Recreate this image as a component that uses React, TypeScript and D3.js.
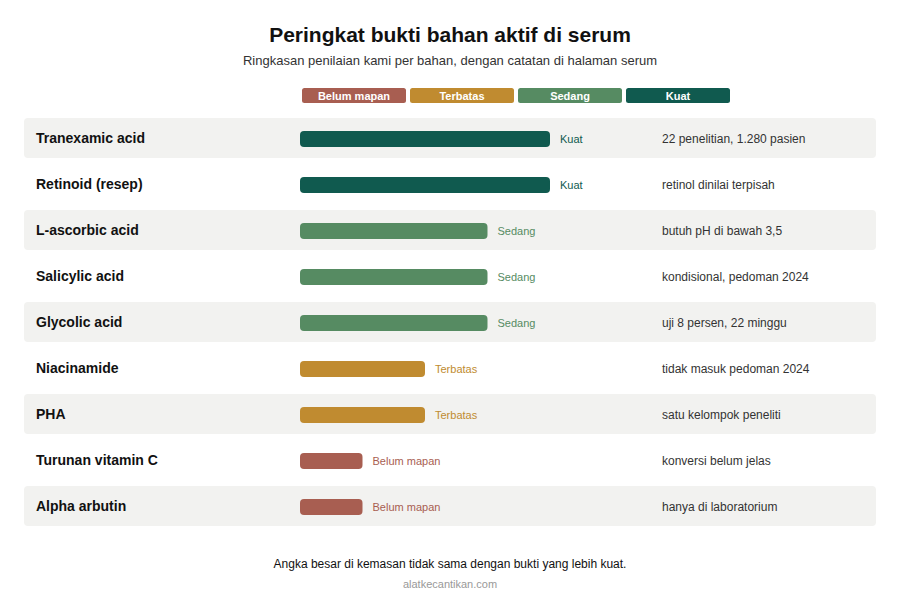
import React, { useRef, useEffect } from "react";
import * as d3 from "d3";

const ingredients = [
  "Tranexamic acid",
  "Retinoid (resep)",
  "L-ascorbic acid",
  "Salicylic acid",
  "Glycolic acid",
  "Niacinamide",
  "PHA",
  "Turunan vitamin C",
  "Alpha arbutin",
];

// evidence level per ingredient: 1 = Belum mapan ... 4 = Kuat
const levels = [4, 4, 3, 3, 3, 2, 2, 1, 1];

const notes = [
  "22 penelitian, 1.280 pasien",
  "retinol dinilai terpisah",
  "butuh pH di bawah 3,5",
  "kondisional, pedoman 2024",
  "uji 8 persen, 22 minggu",
  "tidak masuk pedoman 2024",
  "satu kelompok peneliti",
  "konversi belum jelas",
  "hanya di laboratorium",
];

const levelNames = ["Belum mapan", "Terbatas", "Sedang", "Kuat"];
const levelColors = ["#a85e51", "#c08b30", "#568b62", "#105a4f"];

const FONT = "Liberation Sans, Arial, sans-serif";

export default function App() {
  const svgRef = useRef<SVGSVGElement | null>(null);

  useEffect(() => {
    if (!svgRef.current) return;
    const width = 900;
    const height = 606;

    const svg = d3.select(svgRef.current);
    svg.selectAll("*").remove();
    svg.attr("font-family", FONT);

    svg.append("rect").attr("width", width).attr("height", height).attr("fill", "#fff");

    // title
    svg.append("text")
      .attr("x", width / 2).attr("y", 42)
      .attr("text-anchor", "middle")
      .attr("font-size", 21).attr("font-weight", "bold")
      .attr("fill", "#111")
      .text("Peringkat bukti bahan aktif di serum");

    svg.append("text")
      .attr("x", width / 2).attr("y", 65)
      .attr("text-anchor", "middle")
      .attr("font-size", 13)
      .attr("fill", "#333")
      .text("Ringkasan penilaian kami per bahan, dengan catatan di halaman serum");

    // legend
    const legendX = d3.scaleBand<string>()
      .domain(levelNames)
      .range([302, 730])
      .paddingInner(4 / 108);
    const legend = svg.append("g");
    levelNames.forEach((name, i) => {
      legend.append("rect")
        .attr("x", legendX(name)!).attr("y", 88)
        .attr("width", legendX.bandwidth()).attr("height", 15)
        .attr("rx", 2.5)
        .attr("fill", levelColors[i]);
      legend.append("text")
        .attr("x", legendX(name)! + legendX.bandwidth() / 2).attr("y", 99.5)
        .attr("text-anchor", "middle")
        .attr("font-size", 11).attr("font-weight", "bold")
        .attr("fill", "#fff")
        .text(name);
    });

    // rows
    const y = d3.scaleBand<string>()
      .domain(ingredients)
      .range([118, 118 + 46 * ingredients.length - 6])
      .paddingInner(6 / 46)
      .paddingOuter(0);

    const x = d3.scaleLinear().domain([0, 4]).range([300, 550]);
    const barH = 16;

    const rows = svg.append("g")
      .selectAll("g")
      .data(ingredients)
      .join("g")
      .attr("transform", (d) => `translate(0,${y(d)})`);

    rows.filter((_, i) => i % 2 === 0)
      .append("rect")
      .attr("x", 24).attr("width", 852)
      .attr("height", y.bandwidth())
      .attr("rx", 4)
      .attr("fill", "#f2f2f0");

    const mid = y.bandwidth() / 2;

    rows.append("text")
      .attr("x", 36).attr("y", mid + 5)
      .attr("font-size", 14).attr("font-weight", "bold")
      .attr("fill", "#111")
      .text((d) => d);

    rows.append("rect")
      .attr("x", x(0))
      .attr("y", mid - barH / 2 + 1)
      .attr("width", (_, i) => x(levels[i]) - x(0))
      .attr("height", barH)
      .attr("rx", 4)
      .attr("fill", (_, i) => levelColors[levels[i] - 1]);

    rows.append("text")
      .attr("x", (_, i) => x(levels[i]) + 10)
      .attr("y", mid + 5)
      .attr("font-size", 11)
      .attr("fill", (_, i) => levelColors[levels[i] - 1])
      .text((_, i) => levelNames[levels[i] - 1]);

    rows.append("text")
      .attr("x", 662).attr("y", mid + 4.5)
      .attr("font-size", 12)
      .attr("fill", "#333")
      .text((_, i) => notes[i]);

    // footer
    svg.append("text")
      .attr("x", width / 2).attr("y", 568)
      .attr("text-anchor", "middle")
      .attr("font-size", 12)
      .attr("fill", "#111")
      .text("Angka besar di kemasan tidak sama dengan bukti yang lebih kuat.");

    svg.append("text")
      .attr("x", width / 2).attr("y", 588)
      .attr("text-anchor", "middle")
      .attr("font-size", 11)
      .attr("fill", "#999")
      .text("alatkecantikan.com");
  }, []);

  return (
    <svg
      ref={svgRef}
      width={900}
      height={606}
      style={{ position: "absolute", left: 0, top: 0, display: "block" }}
    ></svg>
  );
}
